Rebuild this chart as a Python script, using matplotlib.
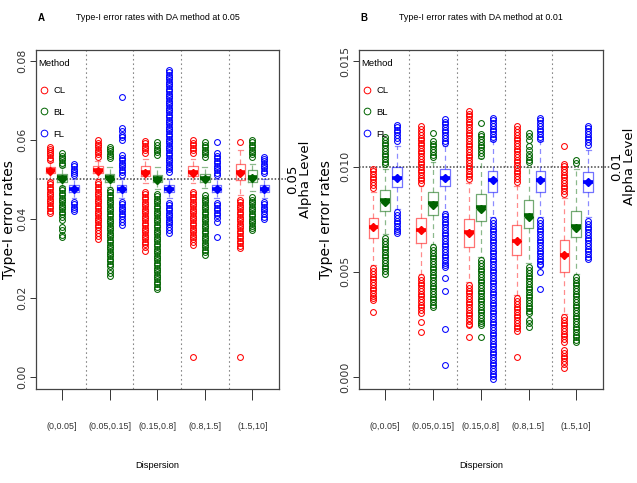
import matplotlib
matplotlib.use("Agg")
import matplotlib.pyplot as plt
from matplotlib.lines import Line2D

NARROW = ["Liberation Sans", "DejaVu Sans"]
WIDE = ["DejaVu Sans"]

CATEGORIES = ["(0,0.05]", "(0.05,0.15]", "(0.15,0.8]", "(0.8,1.5]", "(1.5,10]"]
METHODS = ["CL", "BL", "FL"]
COLORS = {"CL": "#FF0000", "BL": "#006400", "FL": "#0000FF"}

# ---------------- Panel A (alpha = 0.05) ----------------
A_Q1 = {"CL": [0.0516, 0.0516, 0.0508, 0.0508, 0.0498],
        "BL": [0.0494, 0.0494, 0.0493, 0.0494, 0.0493],
        "FL": [0.0467, 0.0467, 0.0467, 0.0467, 0.0467]}
A_MED = {"CL": [0.0524, 0.0524, 0.0519, 0.0519, 0.0519],
         "BL": [0.0505, 0.0505, 0.0503, 0.0503, 0.0506],
         "FL": [0.0476, 0.0476, 0.0476, 0.0476, 0.0476]}
A_Q3 = {"CL": [0.0531, 0.0533, 0.0533, 0.0533, 0.0538],
        "BL": [0.0513, 0.0513, 0.0512, 0.0513, 0.0524],
        "FL": [0.0485, 0.0485, 0.0485, 0.0485, 0.0485]}
A_WLO = {"CL": [0.0499, 0.0500, 0.0490, 0.0490, 0.0460],
         "BL": [0.0482, 0.0480, 0.0475, 0.0478, 0.0470],
         "FL": [0.0452, 0.0452, 0.0452, 0.0452, 0.0452]}
A_WHI = {"CL": [0.0545, 0.0547, 0.0552, 0.0552, 0.0575],
         "BL": [0.0530, 0.0530, 0.0530, 0.0530, 0.0540],
         "FL": [0.0500, 0.0500, 0.0500, 0.0500, 0.0500]}
A_MEAN = {"CL": [0.0522, 0.0522, 0.0516, 0.0516, 0.0515],
          "BL": [0.0502, 0.0501, 0.0499, 0.0500, 0.0503],
          "FL": [0.0476, 0.0476, 0.0476, 0.0476, 0.0476]}

A_CL_FLIERS = [
    [0.0582, 0.0577, 0.0572, 0.0567, 0.0561, 0.0555, 0.0549, 0.0493, 0.0487, 0.0481, 0.0475, 0.0469,
     0.0463, 0.0457, 0.0451, 0.0445, 0.0439, 0.0433, 0.0427, 0.0421, 0.0415],
    [0.0600, 0.0593, 0.0587, 0.0581, 0.0575, 0.0569, 0.0563, 0.0557, 0.0493, 0.0487, 0.0481, 0.0475,
     0.0469, 0.0463, 0.0457, 0.0451, 0.0445, 0.0439, 0.0433, 0.0427, 0.0421, 0.0415, 0.0409, 0.0403,
     0.0397, 0.0391, 0.0385, 0.0379, 0.0372, 0.0365, 0.0358, 0.0350],
    [0.0598, 0.0591, 0.0585, 0.0579, 0.0573, 0.0567, 0.0468, 0.0462, 0.0456, 0.0450, 0.0444, 0.0438,
     0.0432, 0.0426, 0.0420, 0.0414, 0.0408, 0.0402, 0.0396, 0.0390, 0.0384, 0.0378, 0.0372, 0.0366,
     0.0360, 0.0354, 0.0348, 0.0342, 0.0336, 0.0329, 0.0320],
    [0.0600, 0.0593, 0.0586, 0.0580, 0.0574, 0.0567, 0.0468, 0.0462, 0.0456, 0.0450, 0.0444, 0.0438,
     0.0432, 0.0426, 0.0420, 0.0414, 0.0408, 0.0402, 0.0396, 0.0390, 0.0384, 0.0378, 0.0372, 0.0366,
     0.0360, 0.0354, 0.0348, 0.0341, 0.0334, 0.0051],
    [0.0595, 0.0448, 0.0442, 0.0436, 0.0430, 0.0424, 0.0418, 0.0412, 0.0406, 0.0400, 0.0394, 0.0388,
     0.0382, 0.0376, 0.0370, 0.0364, 0.0358, 0.0352, 0.0345, 0.0338, 0.0332, 0.0326, 0.0051],
]
A_BL_FLIERS = [
    [0.0567, 0.0560, 0.0554, 0.0548, 0.0542, 0.0536, 0.0478, 0.0472, 0.0466, 0.0460, 0.0454, 0.0448,
     0.0442, 0.0436, 0.0430, 0.0424, 0.0418, 0.0412, 0.0405, 0.0398, 0.0380, 0.0373, 0.0360, 0.0353],
    [0.0582, 0.0577, 0.0571, 0.0565, 0.0559, 0.0553, 0.0473, 0.0467, 0.0461, 0.0455, 0.0449, 0.0443,
     0.0437, 0.0431, 0.0425, 0.0419, 0.0413, 0.0407, 0.0401, 0.0395, 0.0389, 0.0383, 0.0377, 0.0371,
     0.0365, 0.0359, 0.0353, 0.0347, 0.0341, 0.0335, 0.0329, 0.0323, 0.0317, 0.0311, 0.0305, 0.0299,
     0.0293, 0.0287, 0.0281, 0.0272, 0.0264, 0.0256],
    [0.0594, 0.0587, 0.0580, 0.0574, 0.0568, 0.0562, 0.0463, 0.0457, 0.0451, 0.0445, 0.0439, 0.0433,
     0.0427, 0.0421, 0.0415, 0.0409, 0.0403, 0.0397, 0.0391, 0.0385, 0.0379, 0.0373, 0.0367, 0.0361,
     0.0355, 0.0349, 0.0343, 0.0337, 0.0331, 0.0325, 0.0319, 0.0313, 0.0307, 0.0301, 0.0295, 0.0289,
     0.0283, 0.0277, 0.0271, 0.0265, 0.0259, 0.0253, 0.0247, 0.0241, 0.0235, 0.0229, 0.0223],
    [0.0595, 0.0588, 0.0581, 0.0575, 0.0569, 0.0563, 0.0557, 0.0460, 0.0454, 0.0448, 0.0442, 0.0436,
     0.0430, 0.0424, 0.0418, 0.0412, 0.0406, 0.0400, 0.0394, 0.0388, 0.0382, 0.0376, 0.0370, 0.0364,
     0.0358, 0.0352, 0.0346, 0.0340, 0.0334, 0.0328, 0.0322, 0.0316, 0.0310],
    [0.0600, 0.0594, 0.0588, 0.0581, 0.0575, 0.0569, 0.0563, 0.0557, 0.0455, 0.0449, 0.0443, 0.0437,
     0.0431, 0.0425, 0.0419, 0.0413, 0.0407, 0.0401, 0.0395, 0.0389, 0.0383, 0.0377, 0.0372],
]
A_FL_FLIERS = [
    [0.0539, 0.0533, 0.0527, 0.0521, 0.0516, 0.0511, 0.0443, 0.0437, 0.0431, 0.0425, 0.0419],
    [0.0709, 0.0630, 0.0621, 0.0613, 0.0606, 0.0600, 0.0561, 0.0555, 0.0548, 0.0542, 0.0536, 0.0530,
     0.0524, 0.0518, 0.0512, 0.0443, 0.0437, 0.0431, 0.0425, 0.0419, 0.0413, 0.0407, 0.0400, 0.0393,
     0.0385],
    [0.0777, 0.0771, 0.0765, 0.0759, 0.0753, 0.0747, 0.0741, 0.0735, 0.0729, 0.0723, 0.0717, 0.0711,
     0.0705, 0.0699, 0.0693, 0.0687, 0.0681, 0.0675, 0.0669, 0.0663, 0.0657, 0.0651, 0.0645, 0.0639,
     0.0633, 0.0627, 0.0621, 0.0615, 0.0609, 0.0603, 0.0597, 0.0591, 0.0585, 0.0579, 0.0573, 0.0567,
     0.0561, 0.0555, 0.0549, 0.0543, 0.0537, 0.0531, 0.0525, 0.0519, 0.0440, 0.0434, 0.0428, 0.0422,
     0.0416, 0.0410, 0.0404, 0.0398, 0.0392, 0.0386, 0.0380, 0.0372, 0.0364],
    [0.0594, 0.0567, 0.0558, 0.0553, 0.0547, 0.0541, 0.0535, 0.0529, 0.0523, 0.0517, 0.0511, 0.0440,
     0.0434, 0.0428, 0.0422, 0.0416, 0.0410, 0.0402, 0.0392, 0.0354],
    [0.0557, 0.0552, 0.0546, 0.0540, 0.0534, 0.0528, 0.0522, 0.0516, 0.0443, 0.0437, 0.0431, 0.0425,
     0.0419, 0.0413, 0.0406, 0.0399],
]

# ---------------- Panel B (alpha = 0.01) ----------------
B_Q1 = {"CL": [0.00659, 0.00635, 0.00616, 0.00578, 0.00498],
        "BL": [0.00787, 0.00768, 0.00739, 0.00706, 0.00664],
        "FL": [0.00905, 0.00910, 0.00880, 0.00880, 0.00877]}
B_MED = {"CL": [0.00711, 0.00697, 0.00687, 0.00645, 0.00578],
         "BL": [0.00839, 0.00825, 0.00806, 0.00768, 0.00716],
         "FL": [0.00948, 0.00948, 0.00938, 0.00938, 0.00929]}
B_Q3 = {"CL": [0.00758, 0.00758, 0.00749, 0.00720, 0.00650],
        "BL": [0.00890, 0.00877, 0.00872, 0.00839, 0.00787],
        "FL": [0.01000, 0.00990, 0.00980, 0.00980, 0.00976]}
B_WLO = {"CL": [0.00530, 0.00490, 0.00450, 0.00390, 0.00300],
         "BL": [0.00680, 0.00630, 0.00570, 0.00540, 0.00490],
         "FL": [0.00800, 0.00790, 0.00760, 0.00760, 0.00760]}
B_WHI = {"CL": [0.00880, 0.00910, 0.00920, 0.00910, 0.00850],
         "BL": [0.00990, 0.01020, 0.01040, 0.01000, 0.00990],
         "FL": [0.01100, 0.01100, 0.01120, 0.01120, 0.01080]}
B_MEAN = {"CL": [0.00711, 0.00697, 0.00685, 0.00645, 0.00578],
          "BL": [0.00833, 0.00818, 0.00798, 0.00760, 0.00708],
          "FL": [0.00948, 0.00948, 0.00938, 0.00938, 0.00929]}

B_CL_FLIERS = [
    [0.00990, 0.00978, 0.00965, 0.00952, 0.00939, 0.00926, 0.00913, 0.00900, 0.00516, 0.00503, 0.00490,
     0.00477, 0.00464, 0.00451, 0.00438, 0.00425, 0.00412, 0.00399, 0.00386, 0.00375, 0.00365, 0.00308],
    [0.01194, 0.01178, 0.01162, 0.01150, 0.01138, 0.01126, 0.01114, 0.01102, 0.01089, 0.01076, 0.01063,
     0.01050, 0.01037, 0.01024, 0.01011, 0.00998, 0.00985, 0.00972, 0.00959, 0.00946, 0.00934, 0.00924,
     0.00474, 0.00461, 0.00448, 0.00435, 0.00422, 0.00409, 0.00396, 0.00383, 0.00370, 0.00357, 0.00344,
     0.00331, 0.00318, 0.00305, 0.00262, 0.00212],
    [0.01265, 0.01252, 0.01239, 0.01226, 0.01213, 0.01200, 0.01187, 0.01174, 0.01161, 0.01148, 0.01135,
     0.01122, 0.01109, 0.01096, 0.01083, 0.01070, 0.01057, 0.01044, 0.01031, 0.01018, 0.01005, 0.00992,
     0.00979, 0.00966, 0.00953, 0.00940, 0.00436, 0.00423, 0.00410, 0.00397, 0.00384, 0.00371, 0.00358,
     0.00345, 0.00332, 0.00319, 0.00306, 0.00293, 0.00280, 0.00267, 0.00254, 0.00246, 0.00190],
    [0.01194, 0.01178, 0.01163, 0.01150, 0.01137, 0.01124, 0.01111, 0.01098, 0.01085, 0.01072, 0.01059,
     0.01046, 0.01033, 0.01020, 0.01007, 0.00994, 0.00981, 0.00968, 0.00955, 0.00942, 0.00929, 0.00374,
     0.00361, 0.00348, 0.00335, 0.00322, 0.00309, 0.00296, 0.00283, 0.00270, 0.00257, 0.00244, 0.00231,
     0.00218, 0.00095],
    [0.01100, 0.01014, 0.01001, 0.00988, 0.00975, 0.00962, 0.00949, 0.00936, 0.00923, 0.00910, 0.00897,
     0.00884, 0.00872, 0.00284, 0.00271, 0.00258, 0.00245, 0.00232, 0.00219, 0.00206, 0.00193, 0.00180,
     0.00167, 0.00128, 0.00115, 0.00100, 0.00088, 0.00075, 0.00060, 0.00045],
]
B_BL_FLIERS = [
    [0.01140, 0.01127, 0.01114, 0.01101, 0.01088, 0.01075, 0.01062, 0.01049, 0.01036, 0.01023, 0.01010,
     0.00659, 0.00646, 0.00633, 0.00620, 0.00607, 0.00594, 0.00581, 0.00568, 0.00555, 0.00542, 0.00529,
     0.00516, 0.00503, 0.00490],
    [0.01160, 0.01122, 0.01109, 0.01096, 0.01083, 0.01070, 0.01057, 0.01044, 0.00616, 0.00603, 0.00590,
     0.00577, 0.00564, 0.00551, 0.00538, 0.00525, 0.00512, 0.00499, 0.00486, 0.00473, 0.00460, 0.00447,
     0.00434, 0.00421, 0.00408, 0.00395, 0.00382, 0.00369, 0.00356, 0.00343, 0.00332],
    [0.01209, 0.01156, 0.01143, 0.01130, 0.01117, 0.01104, 0.01091, 0.01078, 0.01065, 0.01052, 0.00554,
     0.00541, 0.00528, 0.00515, 0.00502, 0.00489, 0.00476, 0.00463, 0.00450, 0.00437, 0.00424, 0.00411,
     0.00398, 0.00385, 0.00372, 0.00359, 0.00346, 0.00333, 0.00320, 0.00307, 0.00294, 0.00281, 0.00268,
     0.00256, 0.00246, 0.00190],
    [0.01161, 0.01145, 0.01125, 0.01100, 0.01080, 0.01062, 0.01046, 0.01033, 0.01020, 0.00521, 0.00508,
     0.00495, 0.00482, 0.00469, 0.00456, 0.00443, 0.00430, 0.00417, 0.00404, 0.00391, 0.00378, 0.00365,
     0.00352, 0.00339, 0.00326, 0.00313, 0.00303, 0.00270, 0.00256, 0.00240],
    [0.01033, 0.01015, 0.00474, 0.00461, 0.00448, 0.00435, 0.00422, 0.00409, 0.00396, 0.00383, 0.00370,
     0.00357, 0.00344, 0.00331, 0.00318, 0.00305, 0.00292, 0.00279, 0.00266, 0.00253, 0.00240, 0.00227,
     0.00214, 0.00201, 0.00188, 0.00175, 0.00166],
]
B_FL_FLIERS = [
    [0.01196, 0.01188, 0.01175, 0.01162, 0.01149, 0.01136, 0.01123, 0.00782, 0.00769, 0.00756, 0.00743,
     0.00730, 0.00717, 0.00704, 0.00692, 0.00682],
    [0.01227, 0.01214, 0.01201, 0.01188, 0.01175, 0.01162, 0.01149, 0.01136, 0.01123, 0.01110, 0.00777,
     0.00764, 0.00751, 0.00738, 0.00725, 0.00712, 0.00699, 0.00686, 0.00673, 0.00660, 0.00647, 0.00634,
     0.00621, 0.00608, 0.00595, 0.00582, 0.00569, 0.00556, 0.00543, 0.00530, 0.00521, 0.00470, 0.00410,
     0.00230, 0.00057],
    [0.01232, 0.01219, 0.01206, 0.01193, 0.01180, 0.01167, 0.01154, 0.01141, 0.01133, 0.00744, 0.00731,
     0.00718, 0.00705, 0.00692, 0.00679, 0.00666, 0.00653, 0.00640, 0.00627, 0.00614, 0.00601, 0.00588,
     0.00575, 0.00562, 0.00549, 0.00536, 0.00523, 0.00510, 0.00497, 0.00484, 0.00471, 0.00458, 0.00445,
     0.00432, 0.00419, 0.00406, 0.00393, 0.00380, 0.00367, 0.00354, 0.00341, 0.00328, 0.00315, 0.00302,
     0.00289, 0.00276, 0.00263, 0.00250, 0.00237, 0.00224, 0.00211, 0.00198, 0.00185, 0.00172, 0.00159,
     0.00146, 0.00133, 0.00120, 0.00107, 0.00094, 0.00081, 0.00068, 0.00055, 0.00042, 0.00029, 0.00016,
     0.00003, -0.00008],
    [0.01232, 0.01219, 0.01206, 0.01193, 0.01180, 0.01167, 0.01154, 0.01141, 0.01133, 0.00744, 0.00731,
     0.00718, 0.00705, 0.00692, 0.00679, 0.00666, 0.00653, 0.00640, 0.00627, 0.00614, 0.00601, 0.00588,
     0.00575, 0.00562, 0.00549, 0.00536, 0.00531, 0.00500, 0.00417],
    [0.01194, 0.01181, 0.01168, 0.01155, 0.01142, 0.01129, 0.01116, 0.01103, 0.00740, 0.00727, 0.00714,
     0.00701, 0.00688, 0.00675, 0.00662, 0.00649, 0.00636, 0.00623, 0.00610, 0.00597, 0.00584, 0.00571,
     0.00560],
]

A_YTICKS = [0.00, 0.02, 0.04, 0.06, 0.08]
A_YTICKLABELS = ["0.00", "0.02", "0.04", "0.06", "0.08"]
B_YTICKS = [0.000, 0.005, 0.010, 0.015]
B_YTICKLABELS = ["0.000", "0.005", "0.010", "0.015"]
A_ALPHA, B_ALPHA = 0.05, 0.01
A_TITLE = "Type-I error rates with DA method at 0.05"
B_TITLE = "Type-I error rates with DA method at 0.01"

PANELS = [
    dict(letter="A", title=A_TITLE, q1=A_Q1, med=A_MED, q3=A_Q3, wlo=A_WLO, whi=A_WHI, mean=A_MEAN,
         fliers={"CL": A_CL_FLIERS, "BL": A_BL_FLIERS, "FL": A_FL_FLIERS},
         yticks=A_YTICKS, yticklabels=A_YTICKLABELS, ylim=(-0.0030, 0.0827), alpha=A_ALPHA,
         alpha_label="0.05", rect=[36 / 637, 1 - 389 / 483, 243 / 637, 339 / 483],
         letter_x=41, title_x=158, ylab_x=9, alpha_x=(293, 306)),
    dict(letter="B", title=B_TITLE, q1=B_Q1, med=B_MED, q3=B_Q3, wlo=B_WLO, whi=B_WHI, mean=B_MEAN,
         fliers={"CL": B_CL_FLIERS, "BL": B_BL_FLIERS, "FL": B_FL_FLIERS},
         yticks=B_YTICKS, yticklabels=B_YTICKLABELS, ylim=(-0.00057, 0.01554), alpha=B_ALPHA,
         alpha_label="0.01", rect=[359 / 637, 1 - 389 / 483, 244 / 637, 339 / 483],
         letter_x=364, title_x=481, ylab_x=326, alpha_x=(617, 629)),
]

W, H = 637, 483
FS_H = 6.4  # horizontal text size
fig = plt.figure(figsize=(W / 100, H / 100), dpi=100)

for P in PANELS:
    ax = fig.add_axes(P["rect"])
    for i in range(len(CATEGORIES)):
        for j, m in enumerate(METHODS):
            c = COLORS[m]
            st = dict(med=P["med"][m][i], q1=P["q1"][m][i], q3=P["q3"][m][i],
                      whislo=P["wlo"][m][i], whishi=P["whi"][m][i],
                      mean=P["mean"][m][i], fliers=P["fliers"][m][i])
            ax.bxp([st], positions=[i + 1 + (j - 1) * 0.25], widths=0.2, showmeans=True,
                   manage_ticks=False,
                   boxprops=dict(color=c, alpha=0.55, lw=0.9),
                   whiskerprops=dict(color=c, alpha=0.45, lw=0.9, ls=(0, (4, 3))),
                   capprops=dict(color=c, alpha=0.45, lw=0.9), capwidths=0.1,
                   medianprops=dict(color=c, lw=2.6, solid_capstyle="butt"),
                   meanprops=dict(marker="D", markerfacecolor=c, markeredgecolor=c, markersize=3.8),
                   flierprops=dict(marker="o", markerfacecolor="none", markeredgecolor=c,
                                   markersize=4.2, markeredgewidth=0.75))
    for xv in [1.5, 2.5, 3.5, 4.5]:
        ax.axvline(xv, color="#888888", ls=(0, (1.5, 2.5)), lw=0.8, zorder=0)
    ax.plot([0.45, 5.70], [P["alpha"], P["alpha"]], color="#444444", ls=(0, (1, 1.2)), lw=1.1,
            clip_on=False, zorder=1)
    ax.set_xlim(0.45, 5.56)
    ax.set_ylim(*P["ylim"])
    ax.set_xticks(range(1, len(CATEGORIES) + 1))
    ax.set_xticklabels(CATEGORIES, family=NARROW, fontsize=FS_H)
    ax.set_yticks(P["yticks"])
    ax.set_yticklabels(P["yticklabels"], rotation=90, va="center", family=WIDE, fontsize=7.8)
    ax.tick_params(axis="x", length=8, width=0.7, pad=16, colors="#333333")
    ax.tick_params(axis="y", length=4, width=0.7, pad=2, colors="#333333")
    for sp in ax.spines.values():
        sp.set_color("#444444")
        sp.set_linewidth(0.9)
    handles = [Line2D([], [], ls="none", marker="o", markerfacecolor="none",
                      markeredgecolor=COLORS[m], markersize=4.8, markeredgewidth=0.7) for m in METHODS]
    leg = ax.legend(handles, METHODS, title="Method", loc="upper left",
                    bbox_to_anchor=(2 / 243, 1 - 9 / 339),
                    frameon=False, borderaxespad=0, borderpad=0.0, handlelength=1.2,
                    handletextpad=0.45, labelspacing=1.35, alignment="left",
                    prop=dict(family=NARROW, size=6.8),
                    title_fontproperties=dict(family=NARROW, size=6.8))
    leg._legend_box.sep = 13
    # titles and labels
    fig.text(P["letter_x"] / W, 1 - 18 / H, P["letter"], family=NARROW, fontsize=7.0,
             fontweight="bold", ha="center", va="center")
    fig.text(P["title_x"] / W, 1 - 18 / H, P["title"], family=NARROW, fontsize=FS_H,
             ha="center", va="center")
    x0 = P["rect"][0] * W
    fig.text((x0 + P["rect"][2] * W / 2) / W, 1 - 466 / H, "Dispersion", family=NARROW,
             fontsize=FS_H + 0.3, ha="center", va="center")
    fig.text(P["ylab_x"] / W, 1 - 220 / H, "Type-I error rates", family=WIDE, fontsize=10.0,
             rotation=90, ha="center", va="center")
    ya = ax.transData.transform((0, P["alpha"]))[1] / H
    fig.text(P["alpha_x"][0] / W, ya, P["alpha_label"], family=WIDE, fontsize=9.5,
             rotation=90, ha="center", va="center")
    fig.text(P["alpha_x"][1] / W, ya, "Alpha Level", family=WIDE, fontsize=9.5,
             rotation=90, ha="center", va="center")

fig.savefig("out.png", dpi=100)
